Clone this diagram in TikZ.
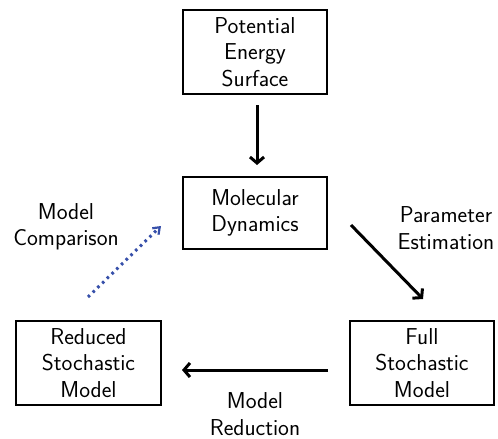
\documentclass[tikz,border=0pt]{standalone}
\usetikzlibrary{arrows.meta}
\definecolor{dotblue}{RGB}{55,80,170}
\begin{document}
\begin{tikzpicture}[x=1pt,y=-1pt,
  every node/.style={font=\sffamily\fontsize{23}{26.5}\selectfont, align=center, inner sep=0pt},
  boxnode/.style={draw, line width=1.6pt, minimum width=144pt},
  lbl/.style={},
  arr/.style={line width=3pt, -{Straight Barb[length=6pt,width=14pt]}},
  dotarr/.style={dotblue, line width=3pt, dash pattern=on 2.6pt off 4pt, -{Straight Barb[length=6pt,width=9pt,line width=2.2pt]}}
]
\useasboundingbox (0,0) rectangle (498,439);
\node[boxnode, minimum height=84pt] (pes) at (255,52) {Potential\\Energy\\Surface};
\node[boxnode, minimum height=72pt] (md) at (255,213) {Molecular\\Dynamics};
\node[boxnode, minimum height=84pt, minimum width=145pt] (red) at (88.5,363) {Reduced\\Stochastic\\Model};
\node[boxnode, minimum height=84pt] (full) at (422,363) {Full\\Stochastic\\Model};
\node[lbl] (lcomp) at (66,227) {Model\\Comparison};
\node[lbl] (lpar) at (446,228) {Parameter\\Estimation};
\node[lbl] (lred) at (255,414) {Model\\Reduction};
\coordinate (a1s) at (257,105);
\coordinate (a1e) at (257,165);
\coordinate (a2s) at (351,225);
\coordinate (a2e) at (423,299);
\coordinate (a3s) at (328,370);
\coordinate (a3e) at (182,370);
\coordinate (a4s) at (88,297);
\coordinate (a4e) at (161,226);
\draw[arr] (a1s) -- (a1e);
\draw[arr] (a2s) -- (a2e);
\draw[arr] (a3s) -- (a3e);
\draw[dotarr] (a4s) -- (a4e);
\end{tikzpicture}
\end{document}
